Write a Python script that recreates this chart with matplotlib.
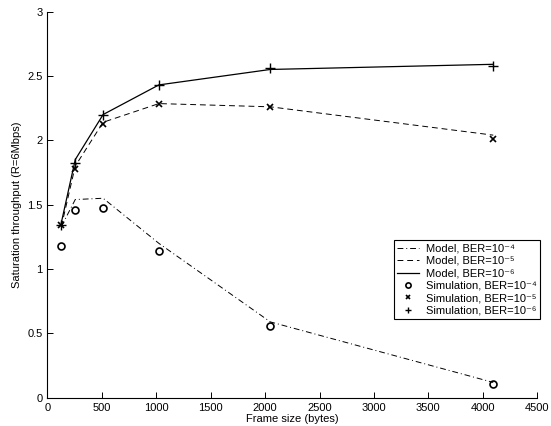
import numpy as np
import matplotlib.pyplot as plt

plt.rcParams['font.family'] = ['Liberation Sans', 'DejaVu Sans']

# Frame sizes (bytes)
frame = np.array([128, 256, 512, 1024, 2048, 4096])

# Model curves
model_e4 = np.array([1.33, 1.54, 1.55, 1.20, 0.59, 0.12])
model_e5 = np.array([1.33, 1.80, 2.14, 2.285, 2.26, 2.04])
model_e6 = np.array([1.36, 1.85, 2.20, 2.43, 2.55, 2.59])

# Simulation points
sim_e4 = np.array([1.18, 1.455, 1.475, 1.14, 0.555, 0.11])
sim_e5 = np.array([1.34, 1.78, 2.13, 2.28, 2.26, 2.01])
sim_e6 = np.array([1.34, 1.82, 2.20, 2.43, 2.56, 2.58])

fig = plt.figure(figsize=(5.51, 4.26), dpi=100)
ax = fig.add_axes([0.086, 0.066, 0.889, 0.907])

ax.plot(frame, model_e4, color='black', lw=0.7, linestyle=(0, (6, 3, 1, 3)), label='Model, BER=10⁻⁴')
ax.plot(frame, model_e5, color='black', lw=0.7, linestyle=(0, (6, 4)), label='Model, BER=10⁻⁵')
ax.plot(frame, model_e6, color='black', lw=0.9, linestyle='-', label='Model, BER=10⁻⁶')
ax.plot(frame, sim_e4, 'o', mfc='none', mec='black', ms=5, mew=1.2, label='Simulation, BER=10⁻⁴')
ax.plot(frame, sim_e5, 'x', color='black', ms=4, mew=1.2, label='Simulation, BER=10⁻⁵')
ax.plot(frame, sim_e6, '+', color='black', ms=6.5, mew=1.0, label='Simulation, BER=10⁻⁶')

ax.set_xlim(0, 4500)
ax.set_ylim(0, 3)
ax.set_xticks(np.arange(0, 4501, 500))
ax.set_yticks(np.arange(0, 3.01, 0.5))
ax.set_yticklabels(['0', '0.5', '1', '1.5', '2', '2.5', '3'])
ax.spines['top'].set_visible(False)
ax.spines['right'].set_visible(False)
ax.tick_params(direction='in', labelsize=8, length=4, width=0.7)
ax.set_xlabel('Frame size (bytes)', fontsize=8, labelpad=1)
ax.set_ylabel('Saturation throughput (R=6Mbps)', fontsize=8, labelpad=4)

leg = ax.legend(loc='lower right', bbox_to_anchor=(1.006, 0.204), borderaxespad=0,
                fontsize=8, frameon=True, fancybox=False, edgecolor='black', framealpha=1,
                handlelength=2.0, labelspacing=0.22, borderpad=0.3, handletextpad=0.6,
                markerscale=0.75)
leg.get_frame().set_linewidth(0.8)

fig.savefig('out.png', dpi=100)
